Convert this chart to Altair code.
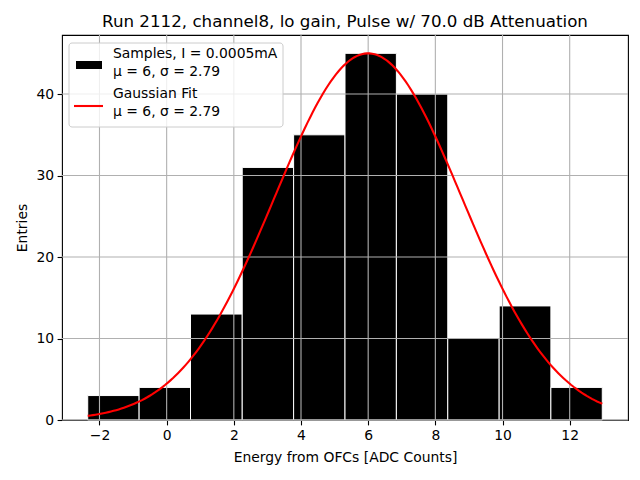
import altair as alt
import numpy as np
import pandas as pd

# ---- data ----
bin_edges = [-2.35, -0.82, 0.71, 2.25, 3.78, 5.31, 6.84, 8.37, 9.90, 11.44, 12.97]
counts = [3, 4, 13, 31, 35, 45, 40, 10, 14, 4]
x_ticks = [-2, 0, 2, 4, 6, 8, 10, 12]
y_ticks = [0, 10, 20, 30, 40]
fit_amp = 45.0
fit_mu = 6.0
fit_sigma = 2.79

title = "Run 2112, channel8, lo gain, Pulse w/ 70.0 dB Attenuation"
x_title = "Energy from OFCs [ADC Counts]"
y_title = "Entries"
legend_lines = ["Samples, I = 0.0005mA", "\u03bc = 6, \u03c3 = 2.79",
                "Gaussian Fit", "\u03bc = 6, \u03c3 = 2.79"]

FONT = "DejaVu Sans"
W, H = 566, 385
xdom = [-3.116, 13.736]
ydom = [0, 47.25]

bars = pd.DataFrame({"x0": bin_edges[:-1], "x1": bin_edges[1:], "n": counts})
xs = np.linspace(bin_edges[0], bin_edges[-1], 200)
curve = pd.DataFrame({"x": xs, "y": fit_amp * np.exp(-0.5 * ((xs - fit_mu) / fit_sigma) ** 2)})
xt = pd.DataFrame({"v": x_ticks})
yt = pd.DataFrame({"v": y_ticks})

xscale = alt.Scale(domain=xdom, nice=False, zero=False)
yscale = alt.Scale(domain=ydom, nice=False, zero=False)

xaxis = alt.Axis(values=x_ticks, title=x_title, grid=False, format="d", titlePadding=8)
yaxis = alt.Axis(values=y_ticks, title=y_title, grid=False, format="d", titlePadding=6)

bar_layer = alt.Chart(bars).mark_rect(color="black", stroke="white", strokeWidth=1).encode(
    x=alt.X("x0:Q", scale=xscale, axis=xaxis),
    x2="x1:Q",
    y=alt.Y("n:Q", scale=yscale, axis=yaxis),
    y2=alt.datum(0),
)

vgrid = alt.Chart(xt).mark_rule(color="#b0b0b0", strokeWidth=1.1).encode(
    x=alt.X("v:Q", scale=xscale, axis=xaxis)
)
hgrid = alt.Chart(yt).mark_rule(color="#b0b0b0", strokeWidth=1.1).encode(
    y=alt.Y("v:Q", scale=yscale, axis=yaxis)
)

line_layer = alt.Chart(curve).mark_line(color="red", strokeWidth=2.1).encode(
    x=alt.X("x:Q", scale=xscale, axis=xaxis),
    y=alt.Y("y:Q", scale=yscale, axis=yaxis),
)

one = pd.DataFrame({"a": [0]})
legend_box = alt.Chart(one).mark_rect(
    fill="white", fillOpacity=0.8, stroke="#cccccc", strokeWidth=1, cornerRadius=3
).encode(x=alt.value(7), x2=alt.value(221), y=alt.value(8), y2=alt.value(92))
legend_patch = alt.Chart(one).mark_rect(color="black").encode(
    x=alt.value(14), x2=alt.value(40), y=alt.value(26), y2=alt.value(34)
)
legend_line = alt.Chart(one).mark_rule(color="red", strokeWidth=2.1).encode(
    x=alt.value(12), x2=alt.value(41), y=alt.value(71)
)
legend_texts = []
for txt, yy in zip(legend_lines, [19, 36.7, 59, 76.7]):
    legend_texts.append(
        alt.Chart(one).mark_text(
            align="left", baseline="middle", font=FONT, fontSize=13.9, color="black"
        ).encode(x=alt.value(51), y=alt.value(yy), text=alt.value(txt))
    )

chart = alt.layer(
    bar_layer, vgrid, hgrid, line_layer, legend_box, legend_patch, legend_line, *legend_texts
).properties(
    width=W, height=H,
    title=alt.TitleParams(title, font=FONT, fontSize=16.7, fontWeight="normal",
                          color="black", anchor="middle", offset=4),
    autosize=alt.AutoSizeParams(type="none"),
    padding={"left": 54, "top": 27, "right": 4, "bottom": 52},
).configure_view(stroke="black", strokeWidth=1.1).configure_axis(
    domain=False,
    tickColor="black", tickSize=4.9, tickWidth=1.1,
    labelFont=FONT, labelFontSize=13.9, labelColor="black", labelPadding=3.5,
    titleFont=FONT, titleFontSize=13.9, titleColor="black", titleFontWeight="normal",
)

chart.save("out.html", embed_options={"renderer": "svg", "actions": False})
